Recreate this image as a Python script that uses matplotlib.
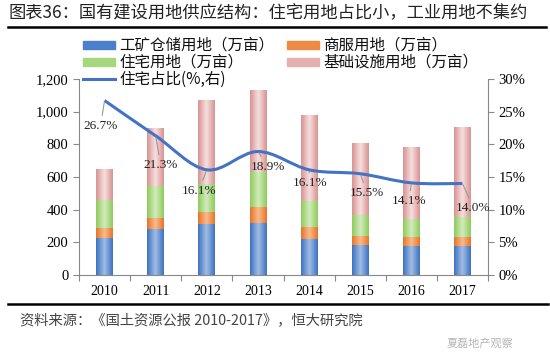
import matplotlib
matplotlib.use("Agg")
import matplotlib.pyplot as plt
import numpy as np
from matplotlib.colors import LinearSegmentedColormap
from matplotlib.lines import Line2D
from matplotlib.patches import PathPatch, Rectangle
from matplotlib.path import Path
from matplotlib.ticker import FuncFormatter, PercentFormatter

plt.rcParams["font.family"] = ["Liberation Serif", "Noto Sans CJK SC", "DejaVu Sans"]

# data (万亩)
years = ["2010", "2011", "2012", "2013", "2014", "2015", "2016", "2017"]
industrial = [225, 280, 310, 316, 222, 186, 180, 180]
commercial = [60, 70, 77, 102, 72, 55, 51, 51]
residential = [174, 192, 172, 213, 157, 124, 110, 126]
infrastructure = [188, 351, 512, 497, 524, 437, 436, 546]
res_share = [26.7, 21.3, 16.1, 18.9, 16.1, 15.5, 14.1, 14.0]

series_names = ["工矿仓储用地（万亩）", "商服用地（万亩）", "住宅用地（万亩）", "基础设施用地（万亩）"]
share_name = "住宅占比(%,右)"

# (edge colour, centre colour) for the bar gradients
bar_colors = [("#3c72c2", "#a2bde3"), ("#e8742a", "#f8bc8c"),
              ("#8ecb5c", "#d3ebbd"), ("#d99292", "#f6e0e0")]
flat_colors = ["#4a7fcc", "#ef8a45", "#a5d77c", "#e6b0b0"]
line_color = "#4472c4"

# label offsets in pixels from each point
label_offsets = [(-4, -25), (5, -29), (-8, -21), (10, -15), (1, -13), (7, -19), (-2, -18), (11, -24)]

W, H = 550, 364
fig = plt.figure(figsize=(W / 100, H / 100), dpi=100)
ax = fig.add_axes([79 / W, 1 - 275 / H, (488 - 79) / W, (275 - 79) / H])

x = np.arange(len(years))
width = 0.33
bottom = np.zeros(len(years))
for vals, (edge, centre), flat in zip([industrial, commercial, residential, infrastructure],
                                     bar_colors, flat_colors):
    bars = ax.bar(x, vals, width, bottom=bottom, color=flat, zorder=2, linewidth=0)
    cmap = LinearSegmentedColormap.from_list("g", [edge, centre, edge])
    grad = np.linspace(0, 1, 64).reshape(1, -1)
    for b in bars:
        ax.imshow(grad, cmap=cmap, aspect="auto", interpolation="bilinear", zorder=2.1,
                  extent=[b.get_x(), b.get_x() + b.get_width(), b.get_y(), b.get_y() + b.get_height()])
    bottom += np.array(vals)

ax.set_xlim(-0.5, len(years) - 0.5)
ax.set_ylim(0, 1200)
ax.set_yticks(np.arange(0, 1201, 200))
ax.yaxis.set_major_formatter(FuncFormatter(lambda v, p: f"{int(v):,}"))
ax.set_xticks(np.arange(-0.5, len(years), 1))
ax.set_xticklabels([])
ax.set_xticks(x, minor=True)
ax.set_xticklabels(years, minor=True)
ax.tick_params(axis="x", which="minor", length=0, pad=7)
ax.tick_params(axis="x", which="major", length=4, color="#888888")
ax.tick_params(axis="y", length=4, color="#888888", labelsize=10.5)
ax.tick_params(axis="x", labelsize=10.5)
for s in ["top", "right"]:
    ax.spines[s].set_visible(False)
for s in ["left", "bottom"]:
    ax.spines[s].set_color("#888888")

ax2 = ax.twinx()
ax2.set_ylim(0, 30)
ax2.set_yticks(np.arange(0, 31, 5))
ax2.yaxis.set_major_formatter(PercentFormatter(decimals=0))
ax2.tick_params(axis="y", length=4, color="#888888", labelsize=10.5)
for s in ["top", "left", "bottom"]:
    ax2.spines[s].set_visible(False)
ax2.spines["right"].set_color("#888888")

# smoothed line through the points (Catmull-Rom as cubic Bezier)
pts = np.column_stack([x, res_share]).astype(float)
verts = [pts[0]]
codes = [Path.MOVETO]
for i in range(len(pts) - 1):
    p0 = pts[max(i - 1, 0)]
    p1, p2 = pts[i], pts[i + 1]
    p3 = pts[min(i + 2, len(pts) - 1)]
    verts += [p1 + (p2 - p0) / 6, p2 - (p3 - p1) / 6, p2]
    codes += [Path.CURVE4] * 3
ax2.add_patch(PathPatch(Path(verts, codes), fill=False, edgecolor=line_color, lw=2.2, zorder=3))

for xi, v, off in zip(x, res_share, label_offsets):
    ax2.annotate(f"{v:.1f}%", xy=(xi, v), xytext=off, textcoords="offset pixels",
                 ha="center", va="center", fontsize=9.5, color="#222222",
                 arrowprops=dict(arrowstyle="-", color="#999999", lw=0.8, shrinkA=1, shrinkB=1))

# legend, laid out by hand: two columns, three rows
legend_items = [(83, 45, "patch", flat_colors[0], series_names[0]),
                (83, 62, "patch", flat_colors[2], series_names[2]),
                (83, 79, "line", line_color, share_name),
                (287, 45, "patch", flat_colors[1], series_names[1]),
                (287, 62, "patch", flat_colors[3], series_names[3])]
for px, py, kind, col, text in legend_items:
    if kind == "patch":
        fig.add_artist(Rectangle((px / W, 1 - (py + 4) / H), 32 / W, 8 / H,
                                 transform=fig.transFigure, color=col))
    else:
        fig.add_artist(Line2D([px / W, (px + 32) / W], [1 - py / H] * 2, color=col, lw=2.2))
    fig.text((px + 36) / W, 1 - py / H, text, fontsize=11.2, va="center", ha="left",
             color="#111111", family=["Noto Sans CJK SC"], weight="medium")

fig.text(8 / W, 1 - 13 / H, "图表36：国有建设用地供应结构：住宅用地占比小，工业用地不集约",
         fontsize=12.4, va="center", ha="left", color="#222222", family=["Noto Sans CJK SC"])
fig.add_artist(Line2D([8 / W, 546 / W], [1 - 27 / H] * 2, color="black", lw=1.8))
fig.add_artist(Line2D([8 / W, 548 / W], [1 - 304 / H] * 2, color="black", lw=1.8))
fig.text(20 / W, 1 - 320 / H, "资料来源：《国土资源公报 2010-2017》，恒大研究院",
         fontsize=10.3, va="center", ha="left", color="#444444", style="italic",
         family=["Noto Sans CJK SC"])
fig.text(447 / W, 1 - 343 / H, "夏磊地产观察", fontsize=8, va="center", ha="left",
         color="#b5b5b5", family=["Noto Sans CJK SC"])

fig.savefig("out.png", dpi=100)
